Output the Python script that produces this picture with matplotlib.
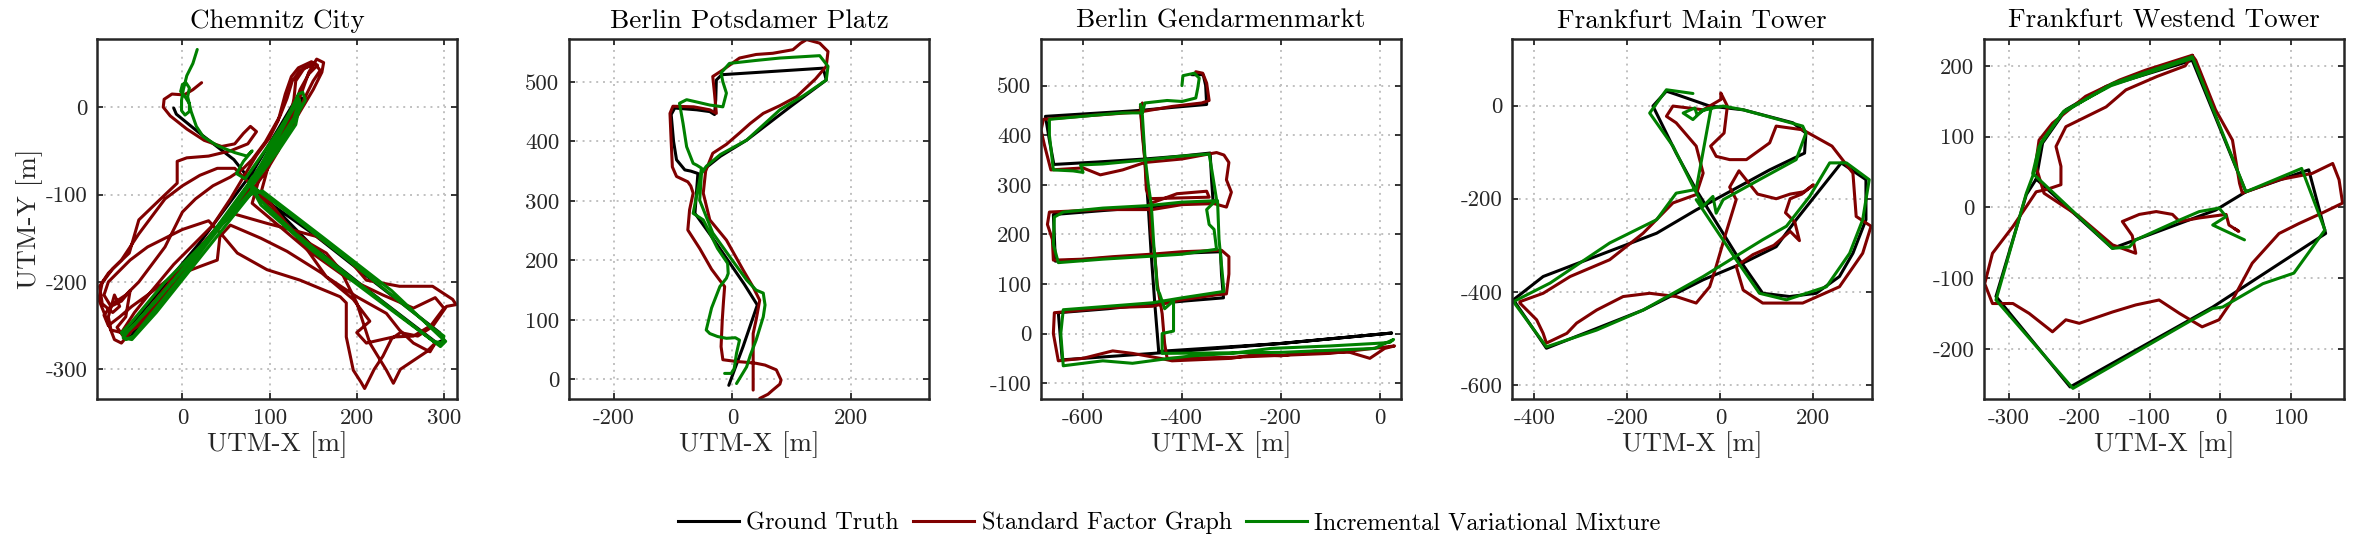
import numpy as np
import matplotlib
matplotlib.use('Agg')
import matplotlib.pyplot as plt
from matplotlib.lines import Line2D

plt.rcParams['font.family'] = ['cmr10', 'DejaVu Serif']
plt.rcParams['mathtext.fontset'] = 'cm'
plt.rcParams['axes.unicode_minus'] = False

# ---- data (UTM offsets in metres) ----
titles = ['Chemnitz City', 'Berlin Potsdamer Platz', 'Berlin Gendarmenmarkt',
          'Frankfurt Main Tower', 'Frankfurt Westend Tower']
series_names = ['Ground Truth', 'Standard Factor Graph', 'Incremental Variational Mixture']

# Chemnitz City
chem_gt = [(-10, -1), (-7, -8), (20, -30), (59, -60), (78, -84), (105, -45), (135, 2), (138, 10),
           (132, 12), (110, -25), (80, -75), (20, -155), (-30, -215), (-60, -250), (-68, -260),
           (-60, -263), (-20, -215), (40, -140), (80, -98), (89, -102), (150, -145), (220, -200),
           (295, -258), (300, -266), (292, -270), (220, -215), (150, -160), (88, -97), (78, -88)]
chem_sfg = [(22, 28), (12, 20), (2, 14), (-12, 15), (-21, 9), (-22, 0), (-14, -10), (5, -25), (25, -38),
            (45, -45), (60, -42), (70, -30), (78, -22), (85, -28), (75, -42), (55, -50), (30, -56),
            (5, -58), (-6, -62), (-6, -87), (-25, -105), (-50, -129), (-61, -167), (-80, -185),
            (-92, -201), (-96, -220), (-88, -240), (-78, -266), (-70, -270), (-60, -258),
            (-40, -232), (-10, -195), (20, -160), (50, -125), (75, -95), (95, -65), (115, -30),
            (130, 0), (138, 20), (145, 40), (154, 55), (162, 51), (160, 40), (150, 20), (135, -5),
            (118, -35), (100, -60), (85, -80),
            (70, -105), (55, -121), (97, -133), (154, -148), (188, -171), (211, -198), (249, -205),
            (287, -205), (310, -220), (314, -226), (303, -228), (287, -251), (270, -262), (250, -258),
            (240, -265), (230, -285), (220, -300), (209, -322), (205, -315), (196, -301), (188, -263),
            (188, -224), (181, -217), (135, -198), (97, -186), (63, -167), (47, -148),
            (30, -130), (0, -140), (-20, -150), (-40, -160), (-60, -175), (-75, -190), (-85, -200),
            (-90, -215), (-82, -228), (-70, -222), (-60, -210), (-65, -240), (-75, -252), (-68, -262),
            (-50, -250), (-30, -225), (0, -190), (30, -150), (55, -120), (80, -95), (95, -75),
            (110, -50), (122, -20), (128, 10), (130, 30), (140, 45), (152, 50), (158, 42), (150, 30),
            (140, 10), (125, -25), (100, -62), (89, -102),
            (116, -133), (146, -156), (165, -167), (181, -186), (200, -224), (215, -270), (234, -301),
            (242, -316), (250, -300), (265, -290), (280, -280), (290, -270), (284, -280), (265, -270),
            (249, -255), (234, -236), (200, -217), (165, -194), (143, -163), (101, -110), (80, -90),
            (60, -70), (40, -70), (20, -78), (0, -90), (-20, -105), (-35, -125), (-50, -145),
            (-60, -160), (-70, -175), (-85, -190), (-95, -205), (-92, -225), (-80, -235), (-72, -228),
            (-78, -215), (-85, -240), (-82, -255), (-70, -258), (-55, -235), (-35, -210), (-10, -180),
            (15, -155), (35, -135), (55, -105), (70, -80), (85, -55), (100, -35), (110, -15),
            (118, 15), (125, 35), (133, 45), (148, 52), (155, 48), (145, 38), (135, 20), (125, -10),
            (108, -45), (90, -75),
            (80, -110), (143, -163), (188, -195), (230, -215), (265, -230), (290, -218), (300, -230),
            (285, -250), (265, -262), (242, -263), (211, -270), (200, -258), (215, -245), (196, -220),
            (160, -190), (120, -165), (90, -150), (55, -135), (43, -148), (40, -175), (21, -182),
            (0, -190), (-20, -200), (-40, -215), (-58, -228), (-72, -240), (-85, -250), (-90, -238),
            (-80, -225), (-65, -215), (-50, -200), (-35, -180), (-20, -160), (-10, -140), (0, -120),
            (15, -105), (35, -90), (55, -80), (70, -70), (80, -60), (95, -40), (112, -10), (120, 10),
            (126, 30), (135, 42), (148, 48)]
chem_ivm = [(17, 66), (12, 50), (5, 36), (1, 20), (-1, 8), (-1, -4), (3, -9), (8, -5), (8, 4), (3, 12),
            (-2, 18), (0, 26), (4, 28), (8, 22), (6, 12), (10, -5), (16, -22), (24, -34), (40, -44),
            (60, -52), (74, -56), (80, -50), (70, -62), (62, -76), (72, -82), (100, -42), (128, 0),
            (133, 15), (138, 17), (141, 8), (120, -30), (90, -72), (40, -140), (-20, -200), (-60, -248),
            (-70, -258), (-65, -266), (-56, -262), (-10, -205), (45, -135), (82, -92), (120, -120),
            (200, -183), (290, -255), (300, -262), (298, -270), (288, -268), (200, -200), (130, -145),
            (88, -105), (80, -90), (110, -50), (130, -20), (135, 5), (132, 12), (125, -2), (85, -75),
            (30, -150), (-30, -222), (-62, -256), (-68, -264), (-58, -266), (-30, -235), (30, -160),
            (78, -100), (92, -96), (160, -148), (240, -210), (295, -262), (302, -268), (296, -274),
            (230, -225), (150, -165), (90, -112), (76, -86), (105, -48), (128, -12), (134, 8),
            (130, 4), (95, -62), (50, -125), (-10, -198), (-58, -252), (-66, -258)]

# Berlin Potsdamer Platz
pots_gt = [(-6, -10), (5, 20), (18, 55), (30, 90), (42, 125), (20, 160), (-4, 195), (-35, 240),
           (-63, 279), (-60, 320), (-58, 346), (-70, 350), (-80, 352), (-94, 369), (-99, 400),
           (-103, 445), (-97, 456), (-60, 453), (-38, 450), (-30, 445), (-28, 470), (-27, 503),
           (-18, 512), (60, 517), (153, 523), (158, 503), (100, 460), (24, 402), (-20, 375),
           (-49, 352), (-57, 340)]
pots_sfg = [(46, -32), (60, -25), (68, -18), (80, -8), (82, -1), (74, 16), (55, 24), (40, 27), (20, 29),
            (7, 30), (-16, 33), (-19, 55), (-17, 100), (-15, 130), (-13, 156), (-20, 165), (-35, 185),
            (-55, 220), (-75, 251), (-72, 285), (-66, 313), (-70, 325), (-75, 332), (-94, 341),
            (-101, 357), (-103, 400), (-105, 447), (-100, 459), (-65, 458), (-38, 453), (-27, 447),
            (-30, 480), (-33, 509), (-16, 520), (12, 540), (40, 546), (68, 548), (102, 554),
            (115, 565), (125, 571), (147, 565), (161, 551), (158, 526), (140, 505), (108, 475),
            (80, 460), (52, 447), (30, 430), (12, 414), (-10, 395), (-33, 380), (-45, 350),
            (-49, 313), (-38, 268), (-10, 234), (18, 184), (35, 155), (46, 133), (40, 100), (35, 77),
            (35, 40), (35, -18)]
pots_ivm = [(-13, 10), (-2, 10), (3, 18), (7, 44), (12, 66), (5, 70), (-10, 69), (-25, 72), (-38, 77),
            (-44, 83), (-35, 120), (-21, 156), (-10, 170), (-7, 178), (-8, 195), (-25, 220), (-49, 268),
            (-66, 279), (-60, 310), (-55, 335), (-52, 355), (-60, 360), (-66, 363), (-77, 391),
            (-83, 430), (-89, 464), (-77, 470), (-55, 465), (-38, 461), (-16, 458), (-10, 481),
            (-16, 500), (-19, 515), (-5, 531), (40, 536), (80, 540), (147, 544), (161, 526),
            (158, 503), (120, 477), (80, 453), (24, 402), (-20, 378), (-44, 358), (-52, 346),
            (-55, 301), (-33, 246), (0, 200), (24, 167), (40, 150), (52, 145), (55, 125), (52, 105),
            (40, 66), (30, 40), (24, 21), (7, -7)]

# Berlin Gendarmenmarkt
gend_gt = [(-380, 522), (-357, 522), (-352, 500), (-350, 462), (-420, 456), (-484, 450), (-580, 444),
           (-676, 438), (-668, 390), (-659, 341), (-570, 346), (-475, 352), (-400, 358), (-343, 364),
           (-340, 310), (-337, 266), (-400, 261), (-468, 255), (-560, 248), (-660, 240), (-658, 195),
           (-656, 146), (-560, 152), (-462, 158), (-400, 162), (-322, 165), (-320, 120), (-316, 72),
           (-390, 66), (-455, 60), (-550, 50), (-650, 42), (-642, -53), (-444, -39), (-200, -20),
           (24, 1), (-200, -20), (-447, -36), (-455, 62), (-462, 158), (-468, 255), (-475, 352),
           (-484, 458)]
gend_sfg = [(-372, 528), (-358, 525), (-350, 505), (-345, 470), (-360, 465), (-420, 458), (-484, 447),
            (-580, 440), (-680, 432), (-685, 410), (-678, 380), (-665, 330), (-600, 334), (-565, 320),
            (-520, 330), (-475, 345), (-400, 352), (-330, 365), (-315, 360), (-305, 345), (-310, 310),
            (-300, 285), (-310, 255), (-335, 262), (-400, 260), (-460, 250), (-560, 250), (-668, 245),
            (-672, 220), (-662, 190), (-660, 148), (-600, 150), (-540, 155), (-462, 160), (-400, 165),
            (-320, 168), (-305, 155), (-305, 120), (-310, 80), (-330, 78), (-400, 68), (-460, 55),
            (-550, 52), (-658, 42), (-660, 0), (-650, -55), (-600, -50), (-540, -35), (-500, -40),
            (-444, -50), (-420, -55), (-300, -50), (-250, -42), (-200, -45), (-130, -35), (-60, -38),
            (-20, -50), (10, -30), (30, -25), (-100, -40), (-300, -48), (-430, -50), (-435, -20),
            (-440, 40), (-450, 100), (-455, 160), (-462, 200), (-465, 262), (-410, 282), (-350, 287),
            (-345, 275), (-465, 272), (-472, 290), (-475, 350), (-480, 400), (-484, 455), (-480, 465)]
gend_ivm = [(-400, 500), (-398, 520), (-375, 525), (-365, 515), (-368, 495), (-372, 475), (-400, 468),
            (-430, 470), (-475, 465), (-480, 445), (-520, 445), (-580, 440), (-668, 432), (-668, 400),
            (-660, 330), (-620, 328), (-600, 325), (-605, 340), (-560, 342), (-475, 350), (-400, 358),
            (-345, 362), (-338, 320), (-330, 270), (-350, 250), (-345, 220), (-335, 210), (-330, 170),
            (-400, 160), (-462, 156), (-560, 150), (-650, 143), (-660, 180), (-658, 235), (-640, 245),
            (-560, 253), (-468, 258), (-400, 265), (-328, 268), (-325, 190), (-315, 85), (-400, 72),
            (-460, 62), (-550, 55), (-640, 48), (-645, 0), (-640, -65), (-560, -55), (-500, -60),
            (-440, -52), (-380, -45), (-300, -40), (-220, -30), (-100, -25), (-10, -20), (20, -18),
            (28, -12), (10, -20), (-10, -30), (-200, -38), (-440, -40), (-440, 0), (-417, 5),
            (-417, 66), (-435, 50), (-445, 80), (-450, 90), (-452, 120), (-457, 180), (-462, 260),
            (-468, 300), (-475, 360), (-480, 440), (-484, 462)]

# Frankfurt Main Tower
main_gt = [(-116, 31), (-145, -1), (-95, -102), (-52, -181), (41, -331), (91, -403), (149, -410),
           (206, -403), (256, -367), (285, -317), (313, -245), (313, -159), (260, -123), (163, -245),
           (120, -303), (49, -338), (-37, -374), (-166, -439), (-374, -521), (-445, -417),
           (-381, -367), (-137, -274), (-52, -224), (106, -138), (181, -102), (184, -59),
           (156, -37), (49, -9), (-23, -1), (-95, 24), (-116, 31)]
main_sfg = [(-431, -421), (-381, -403), (-323, -367), (-238, -331), (-166, -274), (-102, -209),
            (-52, -191), (-37, -145), (-52, -87), (-95, -37), (-116, -23), (-102, -1), (-37, -9),
            (1, 13), (1, 27), (15, -1), (8, -59), (-21, -87), (-9, -109), (20, -116), (56, -116),
            (106, -80), (120, -44), (177, -52), (240, -87), (285, -145), (292, -238), (324, -259),
            (306, -317), (256, -389), (177, -424), (91, -424), (49, -396), (34, -345), (70, -320),
            (115, -300), (150, -270), (170, -290), (160, -250), (140, -230), (150, -200), (175, -190),
            (200, -170), (180, -185), (150, -190), (120, -200), (80, -190), (40, -140), (20, -175),
            (34, -202), (10, -280), (-9, -345), (-23, -389), (-52, -424), (-95, -410), (-152, -403),
            (-209, -410), (-266, -439), (-309, -467), (-330, -489), (-374, -510), (-381, -489),
            (-395, -460), (-431, -424)]
main_ivm = [(-59, 26), (-116, 34), (-152, -16), (-102, -87), (-59, -173), (-37, -216), (-16, -195),
            (-9, -231), (6, -202), (84, -159), (163, -116), (184, -59), (177, -44), (49, -9), (6, -1),
            (-37, -9), (-59, -30), (-80, -16), (-55, -5), (-50, -20), (-40, -12), (-20, -5),
            (-52, -180), (-95, -188), (-137, -245), (-238, -295), (-366, -381), (-445, -421),
            (-374, -518), (-266, -482), (-166, -439), (-37, -367), (91, -288), (142, -259),
            (192, -195), (235, -123), (271, -123), (320, -159), (306, -245), (278, -317),
            (228, -389), (142, -417), (84, -403), (34, -331), (-52, -202)]

# Frankfurt Westend Tower
west_gt = [(-261, 40), (-153, -58), (-7, -4), (36, 22), (125, 53), (149, -37), (-11, -141),
           (-213, -254), (-318, -126), (-275, 18), (-261, 40), (-252, 91), (-219, 138), (-162, 171),
           (-40, 208), (36, 22)]
west_sfg = [(-40, 215), (-35, 208), (-7, 138), (17, 95), (27, 34), (31, 20), (83, 39), (130, 48),
            (159, 62), (168, 39), (173, 6), (144, -8), (111, -23), (83, -37), (45, -79), (17, -131),
            (-2, -159), (-26, -169), (-58, -150), (-87, -131), (-120, -138), (-153, -148),
            (-200, -164), (-219, -159), (-238, -176), (-271, -150), (-294, -136), (-323, -136),
            (-334, -108), (-323, -65), (-294, -27), (-275, 1), (-261, 22), (-247, 25), (-226, 32),
            (-226, 58), (-233, 86), (-219, 114), (-162, 142), (-134, 166), (-90, 185), (-50, 200),
            (-40, 215), (-106, 194), (-143, 180), (-191, 157), (-238, 119), (-257, 95), (-262, 60),
            (-250, 20), (-200, -13), (-153, -53), (-120, -65), (-125, -40), (-139, -20), (-115, -10),
            (-91, -6), (-68, -10), (-58, -20), (-30, -15), (8, -10), (12, -25), (26, -34), (20, -30)]
west_ivm = [(34, -46), (-11, -25), (8, -13), (-2, -1), (-30, -6), (-58, -18), (-120, -46), (-129, -56),
            (-153, -58), (-266, 48), (-257, 86), (-224, 133), (-153, 175), (-40, 213), (36, 22),
            (115, 55), (148, -32), (104, -93), (60, -108), (3, -141), (-11, -143), (-40, -159),
            (-209, -256), (-318, -131), (-275, 20), (-262, 55), (-254, 92), (-222, 136), (-155, 172),
            (-42, 210)]

# axis windows and ticks
xlims = [(-98, 315), (-275, 331), (-685, 43), (-448, 326), (-335, 175)]
ylims = [(-334, 78), (-33, 572), (-132, 594), (-630, 143), (-271, 238)]
xticks = [[0, 100, 200, 300], [-200, 0, 200], [-600, -400, -200, 0], [-400, -200, 0, 200],
          [-300, -200, -100, 0, 100]]
yticks = [[-300, -200, -100, 0], [0, 100, 200, 300, 400, 500], [-100, 0, 100, 200, 300, 400, 500],
          [-600, -400, -200, 0], [-200, -100, 0, 100, 200]]

panels = [(chem_gt, chem_sfg, chem_ivm), (pots_gt, pots_sfg, pots_ivm), (gend_gt, gend_sfg, gend_ivm),
          (main_gt, main_sfg, main_ivm), (west_gt, west_sfg, west_ivm)]
colors = ['#000000', '#800000', '#008000']
lefts = [97, 569, 1041, 1512, 1984]

W, H = 2353, 542
fig = plt.figure(figsize=(W / 100, H / 100), dpi=100)
axcol = '#262626'

for i in range(5):
    ax = fig.add_axes([lefts[i] / W, (H - 399) / H, 360 / W, 360 / H])
    for path, c in zip(panels[i], colors):
        p = np.array(path, dtype=float)
        ax.plot(p[:, 0], p[:, 1], color=c, lw=2.2, solid_joinstyle='round', solid_capstyle='round')
    ax.set_xlim(xlims[i])
    ax.set_ylim(ylims[i])
    ax.set_xticks(xticks[i])
    ax.set_xticklabels([str(t) for t in xticks[i]])
    ax.set_yticks(yticks[i])
    ax.set_yticklabels([str(t) for t in yticks[i]])
    ax.grid(True, linestyle=(0, (1, 2.5)), color='#c0c0c0', linewidth=1.4)
    ax.set_axisbelow(True)
    ax.tick_params(direction='in', top=True, right=True, length=4, width=1.3,
                   labelsize=16.5, colors=axcol, pad=7)
    for s in ax.spines.values():
        s.set_linewidth(1.8)
        s.set_color(axcol)
    ax.set_title(titles[i], fontsize=19.5, pad=8)
    ax.set_xlabel('UTM-X [m]', fontsize=19.5, color=axcol, labelpad=2)
    if i == 0:
        ax.set_ylabel('UTM-Y [m]', fontsize=19.5, color=axcol, labelpad=2)

handles = [Line2D([0], [0], color=c, lw=2.2) for c in colors]
fig.legend(handles, series_names, loc='center', bbox_to_anchor=(0.497, 0.035), ncol=3,
           frameon=False, fontsize=17.5, handlelength=2.5, handletextpad=0.3, columnspacing=0.6)

fig.savefig('out.png', dpi=100)
